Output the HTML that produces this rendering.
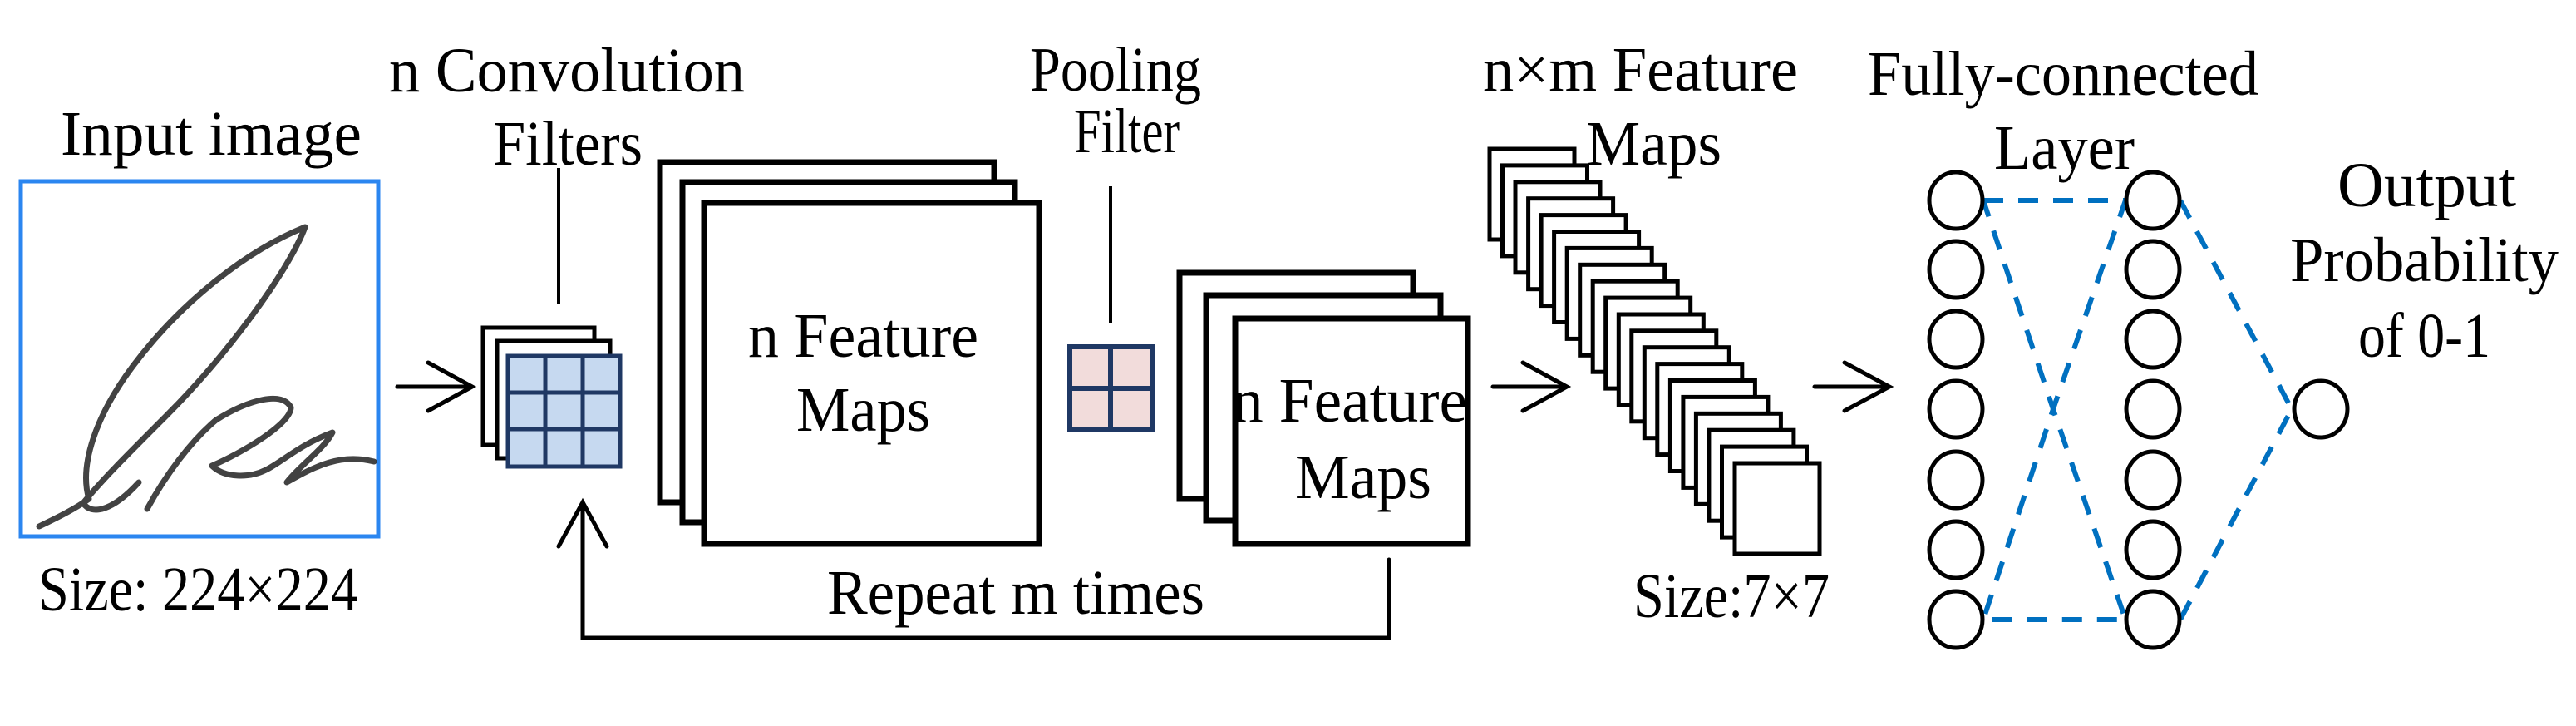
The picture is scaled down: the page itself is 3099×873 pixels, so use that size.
<!DOCTYPE html>
<html><head><meta charset="utf-8"><style>
html,body{margin:0;padding:0;background:#fff;}
svg{display:block;}
text{font-family:"Liberation Serif",serif;font-size:76px;fill:#000;}
</style></head><body>
<svg width="3099" height="873" viewBox="0 0 3099 873" xmlns="http://www.w3.org/2000/svg">
<rect width="3099" height="873" fill="#fff"/>
<text x="73" y="186" textLength="362" lengthAdjust="spacingAndGlyphs">Input image</text>
<text x="468" y="110" textLength="428" lengthAdjust="spacingAndGlyphs">n Convolution</text>
<text x="593" y="198" textLength="180" lengthAdjust="spacingAndGlyphs">Filters</text>
<text x="1239" y="109" textLength="206" lengthAdjust="spacingAndGlyphs">Pooling</text>
<text x="1292" y="183" textLength="127" lengthAdjust="spacingAndGlyphs">Filter</text>
<text x="46" y="734" textLength="385" lengthAdjust="spacingAndGlyphs">Size: 224×224</text>
<text x="995" y="738" textLength="454" lengthAdjust="spacingAndGlyphs">Repeat m times</text>
<text x="1784" y="109" textLength="379" lengthAdjust="spacingAndGlyphs">n×m  Feature</text>
<text x="1965" y="742" textLength="236" lengthAdjust="spacingAndGlyphs">Size:7×7</text>
<text x="2247" y="114" textLength="470" lengthAdjust="spacingAndGlyphs">Fully-connected</text>
<text x="2812" y="248" textLength="215" lengthAdjust="spacingAndGlyphs">Output</text>
<text x="2755" y="338" textLength="323" lengthAdjust="spacingAndGlyphs">Probability</text>
<text x="2837" y="429" textLength="159" lengthAdjust="spacingAndGlyphs">of 0-1</text>

<rect x="25" y="218" width="430" height="427" fill="#fff" stroke="#2b86f0" stroke-width="5"/>
<g fill="none" stroke="#222" stroke-width="7" stroke-linecap="round" stroke-linejoin="round" opacity="0.85">
<path d="M47,633 C70,622 90,612 107,600 C95,560 115,500 160,440 C220,360 300,300 367,273 C350,320 280,420 200,500 C150,550 120,580 100,605 C110,620 135,615 167,580"/>
<path d="M177,612 C200,570 230,530 260,505 C300,480 340,470 350,490 C350,510 290,545 255,560 C270,575 300,575 320,565 C340,555 360,535 400,520 C390,540 360,560 345,580 C380,560 410,545 450,555"/>
</g>

<g stroke="#000" stroke-width="5" fill="#fff">
<rect x="581" y="394" width="134" height="141"/>
<rect x="598" y="410" width="136" height="141"/>
</g>
<rect x="611" y="428" width="135" height="133" fill="#c6d9f0" stroke="#1f3864" stroke-width="5"/>
<g stroke="#1f3864" stroke-width="5">
<line x1="656" y1="428" x2="656" y2="561"/><line x1="701" y1="428" x2="701" y2="561"/>
<line x1="611" y1="472" x2="746" y2="472"/><line x1="611" y1="516" x2="746" y2="516"/>
</g>
<line x1="672" y1="202" x2="672" y2="365" stroke="#000" stroke-width="4"/>

<g stroke="#000" stroke-width="5" fill="none" stroke-linecap="round">
<path d="M478,465 H568 M515,436 L568,465 L515,494"/>
<path d="M1796,465 H1885 M1832,436 L1885,465 L1832,494"/>
<path d="M2183,465 H2273 M2219,436 L2273,465 L2219,494"/>
<path d="M701,604 V767 H1671 V673 M672,657 L701,604 L730,657"/>
</g>

<g stroke="#000" stroke-width="7" fill="#fff">
<rect x="794" y="195" width="402" height="409"/>
<rect x="821" y="219" width="400" height="409"/>
<rect x="847" y="244" width="403" height="410"/>
</g>
<text x="900" y="429" textLength="277" lengthAdjust="spacingAndGlyphs">n Feature</text>
<text x="958" y="518" textLength="161" lengthAdjust="spacingAndGlyphs">Maps</text>

<line x1="1336" y1="224" x2="1336" y2="388" stroke="#000" stroke-width="4"/>
<rect x="1287" y="417" width="99" height="100" fill="#f2dcdb" stroke="#1f3864" stroke-width="6"/>
<line x1="1336" y1="417" x2="1336" y2="517" stroke="#1f3864" stroke-width="6"/>
<line x1="1287" y1="467" x2="1386" y2="467" stroke="#1f3864" stroke-width="6"/>

<g stroke="#000" stroke-width="7" fill="#fff">
<rect x="1419" y="328" width="281" height="272"/>
<rect x="1451" y="355" width="282" height="271"/>
<rect x="1486" y="383" width="280" height="271"/>
</g>
<text x="1482" y="507" textLength="283" lengthAdjust="spacingAndGlyphs">n Feature</text>
<text x="1558" y="599" textLength="164" lengthAdjust="spacingAndGlyphs">Maps</text>

<g stroke="#000" stroke-width="5" fill="#fff">
<rect x="1792" y="179" width="102" height="109"/>
<rect x="1807.5" y="198.9" width="102" height="109"/>
<rect x="1823" y="218.8" width="102" height="109"/>
<rect x="1838.6" y="238.7" width="102" height="109"/>
<rect x="1854.1" y="258.6" width="102" height="109"/>
<rect x="1869.6" y="278.5" width="102" height="109"/>
<rect x="1885.2" y="298.4" width="102" height="109"/>
<rect x="1900.7" y="318.3" width="102" height="109"/>
<rect x="1916.2" y="338.2" width="102" height="109"/>
<rect x="1931.7" y="358.1" width="102" height="109"/>
<rect x="1947.3" y="378" width="102" height="109"/>
<rect x="1962.8" y="397.8" width="102" height="109"/>
<rect x="1978.3" y="417.7" width="102" height="109"/>
<rect x="1993.8" y="437.6" width="102" height="109"/>
<rect x="2009.4" y="457.5" width="102" height="109"/>
<rect x="2024.9" y="477.4" width="102" height="109"/>
<rect x="2040.4" y="497.3" width="102" height="109"/>
<rect x="2055.9" y="517.2" width="102" height="109"/>
<rect x="2071.5" y="537.1" width="102" height="109"/>
<rect x="2087" y="557" width="102" height="109"/>
</g>
<text x="1908" y="198" textLength="163" lengthAdjust="spacingAndGlyphs">Maps</text>

<g stroke="#0070c0" stroke-width="6" fill="none" stroke-dasharray="24,18">
<path d="M2386,241 H2557 L2470,492 L2386,745 H2557 L2470,492 L2386,241"/>
<path d="M2623,241 L2757,492 L2623,745"/>
</g>
<g stroke="#000" stroke-width="5" fill="#fff">
<ellipse cx="2353" cy="241" rx="32" ry="34"/><ellipse cx="2353" cy="324" rx="32" ry="34"/>
<ellipse cx="2353" cy="408" rx="32" ry="34"/><ellipse cx="2353" cy="492" rx="32" ry="34"/>
<ellipse cx="2353" cy="577" rx="32" ry="34"/><ellipse cx="2353" cy="661" rx="32" ry="34"/>
<ellipse cx="2353" cy="745" rx="32" ry="34"/>
<ellipse cx="2590" cy="241" rx="32" ry="34"/><ellipse cx="2590" cy="324" rx="32" ry="34"/>
<ellipse cx="2590" cy="408" rx="32" ry="34"/><ellipse cx="2590" cy="492" rx="32" ry="34"/>
<ellipse cx="2590" cy="577" rx="32" ry="34"/><ellipse cx="2590" cy="661" rx="32" ry="34"/>
<ellipse cx="2590" cy="745" rx="32" ry="34"/>
<ellipse cx="2792" cy="492" rx="32" ry="34"/>
</g>
<text x="2399" y="203" textLength="169" lengthAdjust="spacingAndGlyphs">Layer</text>
</svg>
</body></html>
